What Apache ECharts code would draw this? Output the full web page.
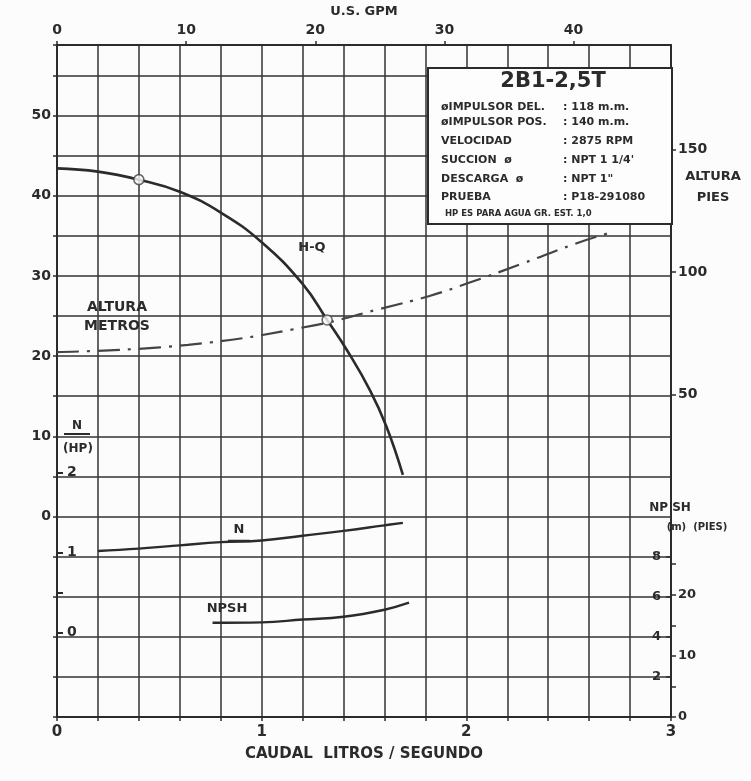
<!DOCTYPE html>
<html>
<head>
<meta charset="utf-8">
<script src="https://cdn.jsdelivr.net/npm/echarts@6/dist/echarts.min.js"></script>
<style>
html,body{margin:0;padding:0;background:#fcfcfc;}
#chart{width:751px;height:781px;}
</style>
</head>
<body>
<div id="chart"></div>
<script>
// ---- data ----
const hqFlow = [0, 0.2, 0.4, 0.6, 0.8, 1.0, 1.2, 1.32, 1.42, 1.53, 1.61, 1.69];
const hqHead = [43.4, 43.0, 42.0, 40.5, 37.9, 34.2, 29.0, 24.5, 20.6, 15.7, 11.2, 5.2];
const sysFlow = [0, 0.64, 1.25, 1.58, 1.82, 2.02, 2.27, 2.52, 2.69];
const sysHead = [20.5, 21.4, 23.8, 25.9, 27.5, 29.2, 31.5, 33.9, 35.3];
const nFlow = [0.2, 0.4, 0.6, 0.8, 1.0, 1.2, 1.4, 1.6, 1.69];
const nHp = [1.02, 1.05, 1.09, 1.13, 1.15, 1.21, 1.27, 1.34, 1.37];
const npshFlow = [0.76, 1.0, 1.2, 1.4, 1.6, 1.72];
const npshM = [4.7, 4.72, 4.86, 5.0, 5.35, 5.7];
const ratedFlow = [0.4, 1.32];
const ratedHead = [42.0, 24.5];
const flowTicks = [0, 1, 2, 3];
const gpmTicks = [0, 10, 20, 30, 40];
const headTicks = [0, 10, 20, 30, 40, 50];
const hpTicks = [0, 1, 2];
const piesTicks = [50, 100, 150];
const npshMTicks = [2, 4, 6, 8];
const npshFtTicks = [0, 10, 20];

const LS_TO_GPM = 15.85;
const M_TO_FT = 3.281;
const HEAD_MIN = -25, HEAD_MAX = 58.8;

const zip = (a, b) => a.map((v, i) => [v, b[i]]);
const ink = '#2b2b2b';
const FONT = 'DejaVu Sans';
const lbl = {color: ink, fontFamily: FONT, fontWeight: 'bold', fontSize: 14};
const near = (v, list) => list.some(t => Math.abs(v - t) < 1e-6);

const chart = echarts.init(document.getElementById('chart'));

function txt(x, y, s, size, align) {
  return {type: 'text', x: x, y: y, z: 120,
    style: {text: s, fill: ink, font: 'bold ' + (size || 13) + 'px "' + FONT + '"',
      textAlign: align || 'center', textVerticalAlign: 'middle'}};
}
function ln(x1, y1, x2, y2, w) {
  return {type: 'line', z: 120, shape: {x1: x1, y1: y1, x2: x2, y2: y2},
    style: {stroke: ink, lineWidth: w || 2}};
}

const infoLeft = [
  ['øIMPULSOR DEL.', ': 118 m.m.', 107],
  ['øIMPULSOR POS.', ': 140 m.m.', 122],
  ['VELOCIDAD', ': 2875 RPM', 141],
  ['SUCCION  ø', ': NPT 1 1/4\'', 160],
  ['DESCARGA  ø', ': NPT 1"', 179],
  ['PRUEBA', ': P18-291080', 197]
];

const graphics = [
  {type: 'rect', z: 110, shape: {x: 428, y: 68, width: 244, height: 156},
    style: {fill: '#fdfdfd', stroke: ink, lineWidth: 2}},
  txt(553, 82, '2B1-2,5T', 21)
];
infoLeft.forEach(r => {
  graphics.push(txt(441, r[2], r[0], 11, 'left'));
  graphics.push(txt(563, r[2], r[1], 11, 'left'));
});
graphics.push(txt(445, 214, 'HP ES PARA AGUA GR. EST. 1,0', 8.5, 'left'));
graphics.push(txt(312, 248, 'H-Q', 13));
graphics.push(txt(117, 307, 'ALTURA', 14));
graphics.push(txt(117, 326, 'METROS', 14));
graphics.push(txt(713, 177, 'ALTURA', 13));
graphics.push(txt(713, 198, 'PIES', 13));
graphics.push(txt(77, 426, 'N', 12));
graphics.push(ln(64, 434, 90, 434, 2));
graphics.push(txt(78, 449, '(HP)', 12));
graphics.push(txt(239, 530, 'N', 13));
graphics.push(ln(228, 541, 250, 541, 2.5));
graphics.push(txt(227, 609, 'NPSH', 13));
graphics.push(txt(670, 508, 'NP SH', 12));
graphics.push(txt(697, 527, '(m)  (PIES)', 10));

chart.setOption({
  backgroundColor: '#fcfcfc',
  animation: false,
  grid: {left: 57, right: 80, top: 38, bottom: 64, containLabel: false},
  xAxis: [
    {type: 'value', min: 0, max: 3, interval: 0.2, position: 'bottom',
      name: 'CAUDAL  LITROS / SEGUNDO', nameLocation: 'middle', nameGap: 30,
      nameTextStyle: Object.assign({}, lbl, {fontSize: 15}),
      axisLine: {show: true, onZero: false, lineStyle: {color: ink, width: 2}},
      axisTick: {show: true, length: 4, lineStyle: {color: ink, width: 1.5}},
      axisLabel: Object.assign({}, lbl, {fontSize: 15, margin: 8,
        formatter: v => near(v, flowTicks) ? String(Math.round(v)) : ''}),
      splitLine: {show: true, lineStyle: {color: '#333', width: 1.5}}},
    {type: 'value', min: 0, max: 3 * LS_TO_GPM, interval: 10, position: 'top',
      name: 'U.S. GPM', nameLocation: 'middle', nameGap: 26,
      nameTextStyle: Object.assign({}, lbl, {fontSize: 13}),
      axisLine: {show: true, onZero: false, lineStyle: {color: ink, width: 2}},
      axisTick: {show: true, length: 4, customValues: gpmTicks, lineStyle: {color: ink, width: 1.5}},
      axisLabel: Object.assign({}, lbl, {margin: 8, customValues: gpmTicks, formatter: v => String(v)}),
      splitLine: {show: false}}
  ],
  yAxis: [
    {type: 'value', min: HEAD_MIN, max: HEAD_MAX, interval: 5, position: 'left',
      axisLine: {show: true, onZero: false, lineStyle: {color: ink, width: 2}},
      axisTick: {show: true, length: 4, lineStyle: {color: ink, width: 1.5}},
      axisLabel: Object.assign({}, lbl, {margin: 6,
        formatter: v => near(v, headTicks) ? String(Math.round(v)) : ''}),
      splitLine: {show: true, lineStyle: {color: '#333', width: 1.5}}},
    {type: 'value', min: (HEAD_MIN + 14.5) / 10, max: (HEAD_MAX + 14.5) / 10, position: 'left',
      axisLine: {show: false, onZero: false},
      axisTick: {show: true, inside: true, length: 6, customValues: [0, 0.5, 1, 2], lineStyle: {color: ink, width: 2}},
      axisLabel: Object.assign({}, lbl, {inside: true, margin: 10, customValues: hpTicks, formatter: v => String(v)}),
      splitLine: {show: false}},
    {type: 'value', min: HEAD_MIN * M_TO_FT, max: HEAD_MAX * M_TO_FT, position: 'right',
      axisLine: {show: true, onZero: false, lineStyle: {color: ink, width: 2}},
      axisTick: {show: true, length: 5, customValues: piesTicks, lineStyle: {color: ink, width: 1.5}},
      axisLabel: Object.assign({}, lbl, {margin: 7, customValues: piesTicks, formatter: v => String(v)}),
      splitLine: {show: false}},
    {type: 'value', min: 0, max: (HEAD_MAX - HEAD_MIN) / 2.5, position: 'right',
      axisLine: {show: false, onZero: false},
      axisTick: {show: true, inside: true, length: 5, customValues: npshMTicks, lineStyle: {color: ink, width: 1.5}},
      axisLabel: Object.assign({}, lbl, {fontSize: 13, inside: true, margin: 10, customValues: npshMTicks, formatter: v => String(v)}),
      splitLine: {show: false}},
    {type: 'value', min: 0, max: (HEAD_MAX - HEAD_MIN) / 2.5 * M_TO_FT, position: 'right',
      axisLine: {show: false, onZero: false},
      axisTick: {show: true, length: 5, customValues: [0, 5, 10, 15, 20, 25], lineStyle: {color: ink, width: 1.5}},
      axisLabel: Object.assign({}, lbl, {fontSize: 13, margin: 7, customValues: npshFtTicks, formatter: v => String(v)}),
      splitLine: {show: false}}
  ],
  series: [
    {name: 'H-Q', type: 'line', xAxisIndex: 0, yAxisIndex: 0, smooth: 0.45, symbol: 'none',
      data: zip(hqFlow, hqHead), lineStyle: {color: ink, width: 2.6}, z: 5},
    {name: 'Altura sistema', type: 'line', xAxisIndex: 0, yAxisIndex: 0, smooth: 0.45, symbol: 'none',
      data: zip(sysFlow, sysHead), lineStyle: {color: '#444', width: 2.2, type: [22, 8, 3, 8]}, z: 4},
    {name: 'N', type: 'line', xAxisIndex: 0, yAxisIndex: 1, smooth: 0.45, symbol: 'none',
      data: zip(nFlow, nHp), lineStyle: {color: ink, width: 2.4}, z: 5},
    {name: 'NPSH', type: 'line', xAxisIndex: 0, yAxisIndex: 3, smooth: 0.45, symbol: 'none',
      data: zip(npshFlow, npshM), lineStyle: {color: ink, width: 2.4}, z: 5},
    {name: 'Puntos', type: 'scatter', xAxisIndex: 0, yAxisIndex: 0, symbol: 'circle', symbolSize: 10,
      data: zip(ratedFlow, ratedHead),
      itemStyle: {color: '#fcfcfc', borderColor: '#444', borderWidth: 1.6}, z: 6}
  ],
  graphic: graphics
});
</script>
</body>
</html>
